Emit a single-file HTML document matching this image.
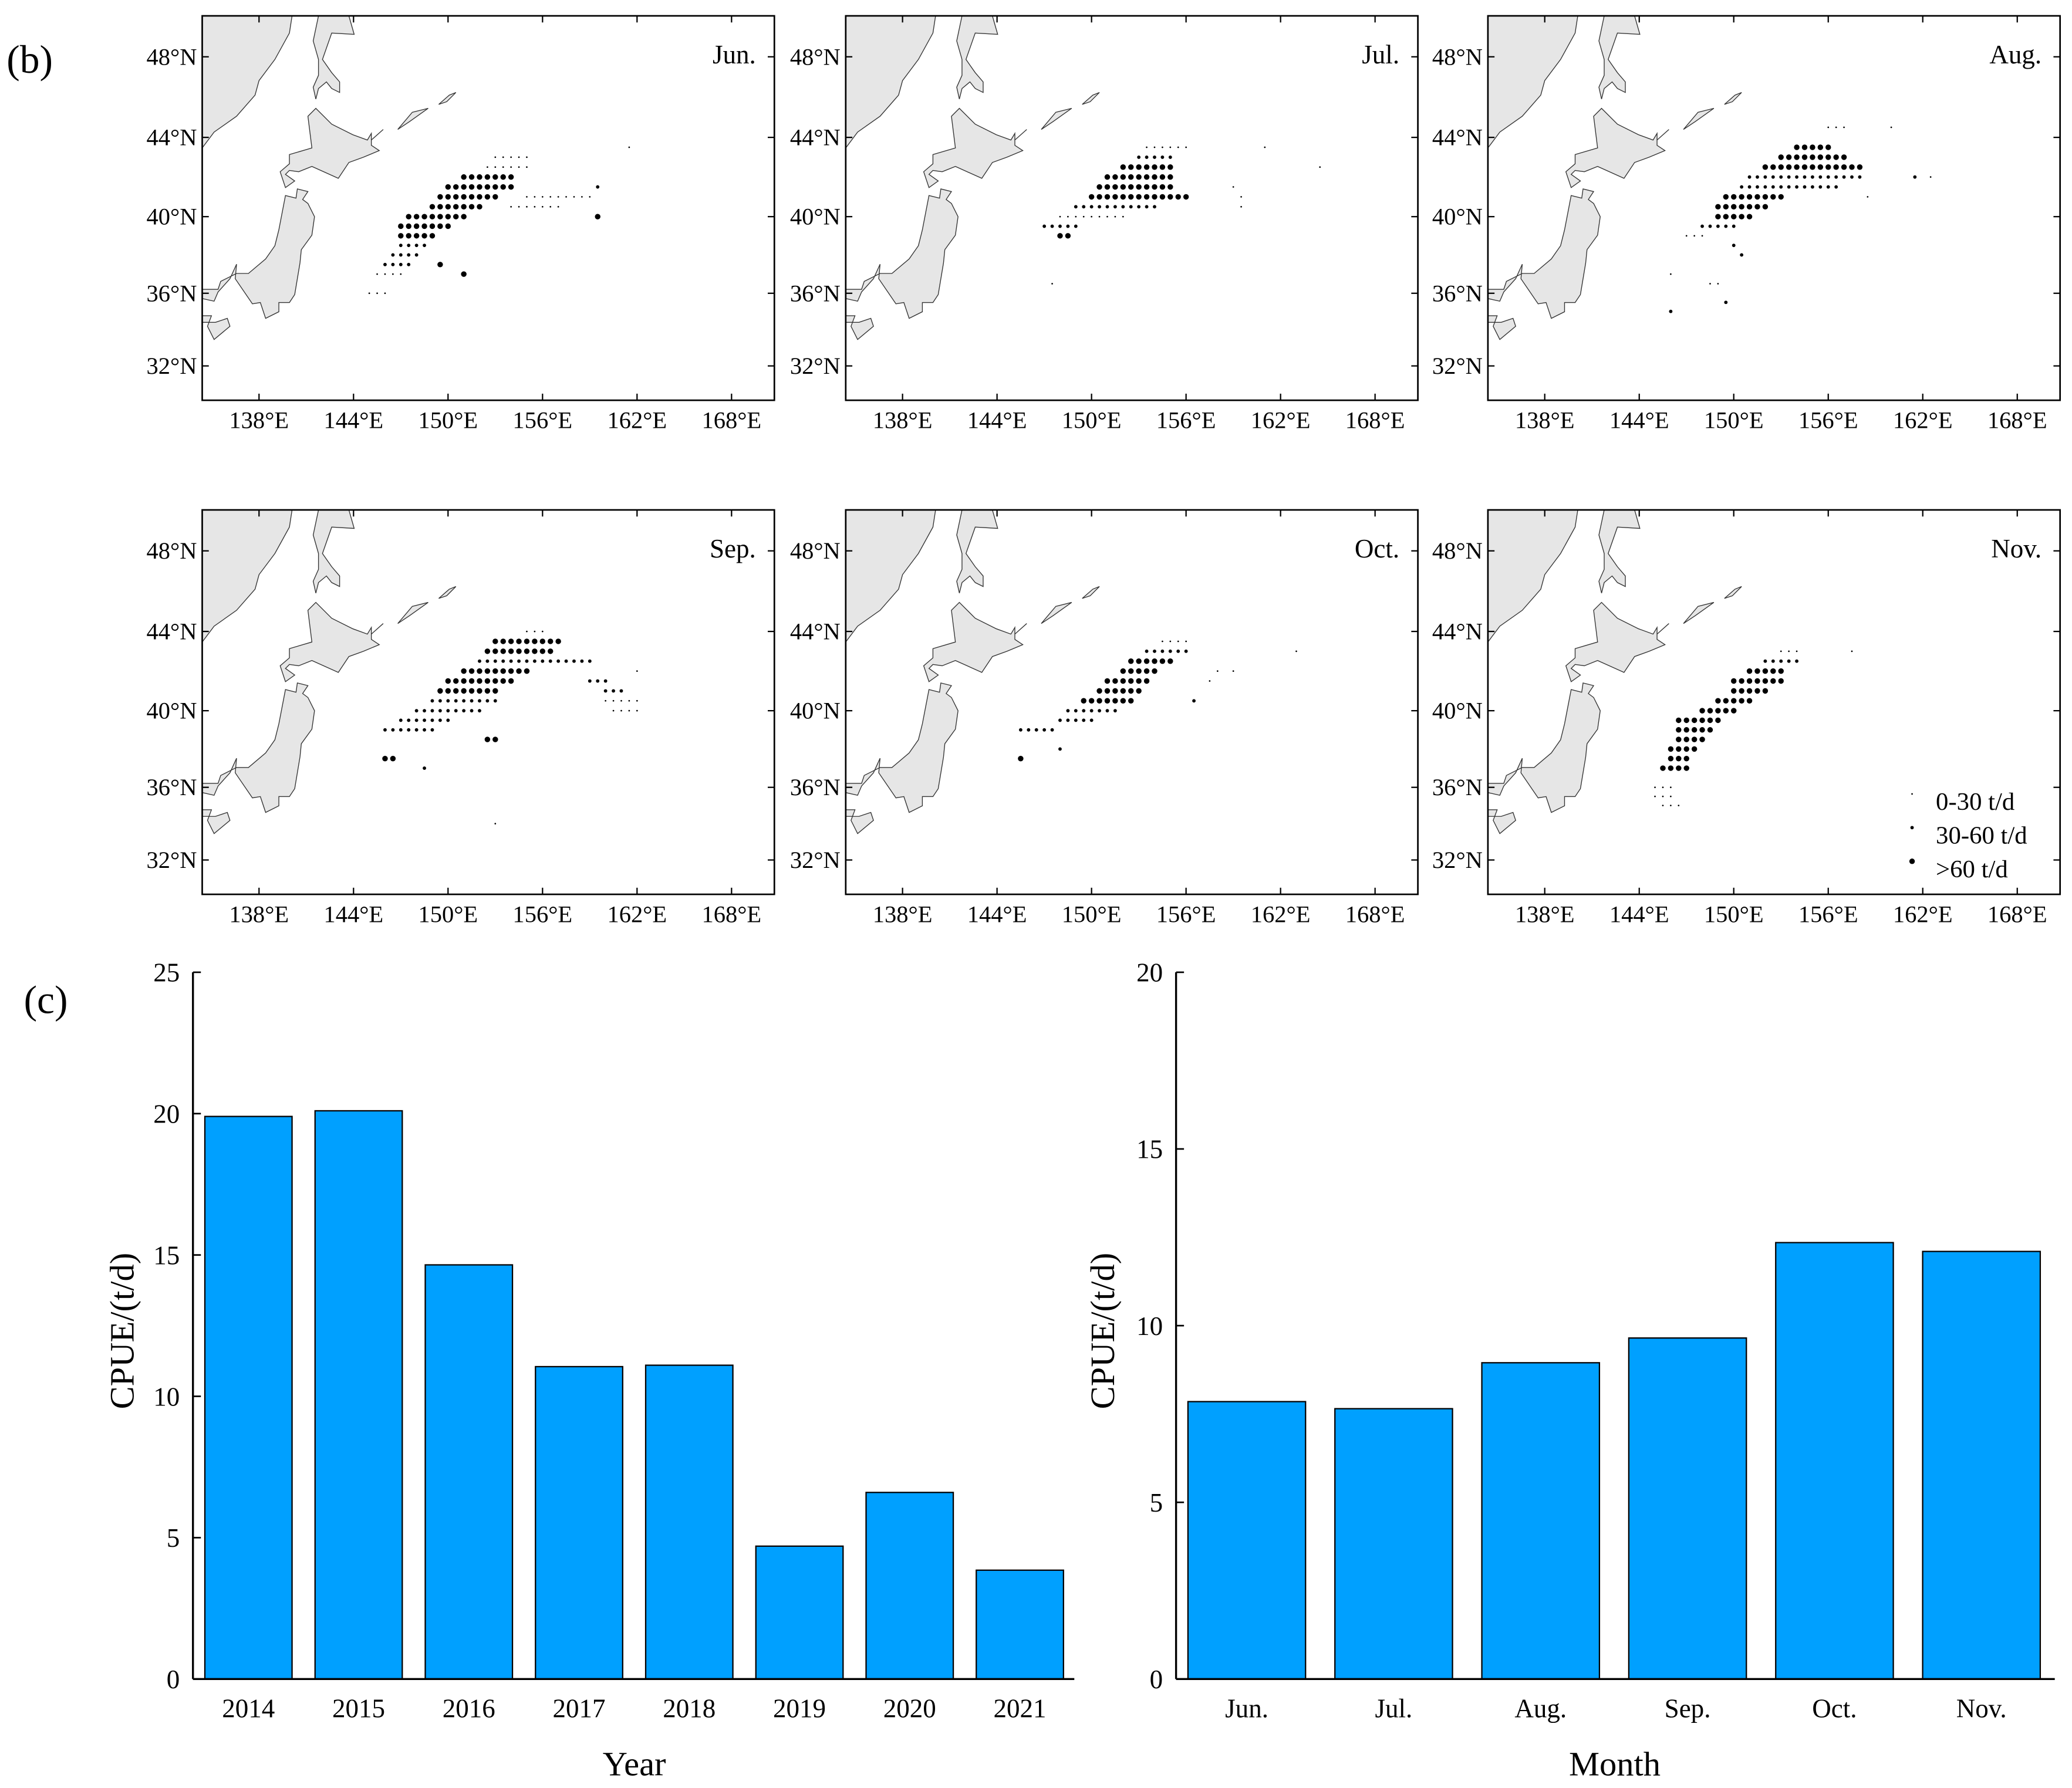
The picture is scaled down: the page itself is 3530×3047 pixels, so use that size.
<!DOCTYPE html>
<html><head><meta charset="utf-8"><style>
html,body{margin:0;padding:0;background:#fff}
svg{display:block;font-family:"Liberation Serif",serif}
svg text{font-family:"Liberation Serif",serif}
</style></head><body>
<svg id="fig" width="3530" height="3047" viewBox="0 0 1568 1353.5" xmlns="http://www.w3.org/2000/svg">
<text x="5" y="55" font-size="30" font-family="Liberation Serif, serif">(b)</text>
<text x="18" y="767" font-size="30" font-family="Liberation Serif, serif">(c)</text>
</svg>
<script>
// ---- Map data ----
const monthNames = ["Jun.","Jul.","Aug.","Sep.","Oct.","Nov."];
const latTicks = [48,44,40,36,32];
const lonTicks = [138,144,150,156,162,168];
// rows: [lat, lonStart, lonEnd, sizeClass]
const junRows = [[43,153,155,1],[42.5,152.5,155,1],[42,151,154,3],[41.5,150,154,3],[41,149.5,153,3],[40.5,149,152,3],[40,147.5,151,3],[39.5,147,150,3],[39,147,149,3],[38.5,147,148.5,2],[38,146.5,148,2],[37.5,146,147.5,2],[37,145.5,147,1],[36,145,146,1],[41,155,159,1],[40.5,154,157,1],[40,159.5,159.5,3],[41.5,159.5,159.5,2],[37.5,149.5,149.5,3],[37,151,151,3],[43.5,161.5,161.5,1]];
const julRows = [[43.5,153.5,156,1],[43,153,155,2],[42.5,152,155,3],[42,151,155,3],[41.5,150.5,155,3],[41,150,156,3],[40.5,149,154,2],[40,148,152,1],[39.5,147,149,2],[39,148,148.5,3],[41.5,159,159,1],[41,159.5,159.5,1],[40.5,159.5,159.5,1],[43.5,161,161,1],[42.5,164.5,164.5,1],[36.5,147.5,147.5,1]];
const augRows = [[44.5,156,157,1],[43.5,154,156,3],[43,153,157,3],[42.5,152,158,3],[42,151,158,2],[41.5,150.5,156.5,2],[41,149.5,153,3],[40.5,149,152,3],[40,149,151,3],[39.5,148,150,2],[39,147,148,1],[38.5,150,150,2],[38,150.5,150.5,2],[37,146,146,1],[35,146,146,2],[35.5,149.5,149.5,2],[36.5,148.5,149,1],[44.5,160,160,1],[42,161.5,161.5,2],[42,162.5,162.5,1],[41,158.5,158.5,1]];
const sepRows = [[44,155,156,1],[43.5,153,157,3],[43,152.5,156.5,3],[42.5,152,159,2],[42,151,155,3],[41.5,150,154,3],[41,149.5,153,3],[40.5,149,153,2],[40,148,152,2],[39.5,147,150,2],[39,146,149,2],[41.5,159,160,2],[41,160,161,2],[40.5,160,162,1],[40,160.5,162,1],[37.5,146,146.5,3],[37,148.5,148.5,2],[38.5,152.5,153,3],[42,162,162,1],[34,153,153,1]];
const octRows = [[43.5,154.5,156,1],[43,153.5,156,2],[42.5,152.5,155,3],[42,152,154,3],[41.5,151,153.5,3],[41,150.5,153,3],[40.5,149.5,152.5,3],[40,148.5,151.5,2],[39.5,148,150,2],[39,145.5,147.5,2],[37.5,145.5,145.5,3],[38,148,148,2],[42,158,158,1],[41.5,157.5,157.5,1],[42,159,159,1],[43,163,163,1],[40.5,156.5,156.5,2]];
const novRows = [[43,153,154,1],[42.5,152,154,2],[42,151,153,3],[41.5,150,153,3],[41,150,152,3],[40.5,149,151,3],[40,148,150,3],[39.5,146.5,149,3],[39,146.5,148.5,3],[38.5,146.5,148,3],[38,146,147.5,3],[37.5,146,147,3],[37,145.5,147,3],[36,145,146,1],[35.5,145,146,1],[35,145.5,146.5,1],[43,157.5,157.5,1]];
const monthRows = [junRows,julRows,augRows,sepRows,octRows,novRows];

// ---- Bar data ----
const years = ["2014","2015","2016","2017","2018","2019","2020","2021"];
const yearCPUE = [19.9,20.1,14.65,11.05,11.1,4.7,6.6,3.85];
const yearTicks = [0,5,10,15,20,25];
const months = ["Jun.","Jul.","Aug.","Sep.","Oct.","Nov."];
const monthCPUE = [7.85,7.65,8.95,9.65,12.35,12.1];
const monthTicks = [0,5,10,15,20];

const NS="http://www.w3.org/2000/svg";
const svg=document.getElementById('fig');
const FF="Liberation Serif, serif";
function mk(tag,attrs,parent,text){const e=document.createElementNS(NS,tag);for(const k in attrs)e.setAttribute(k,attrs[k]);if(tag==='text')e.setAttribute('font-family',FF);if(text!==undefined)e.textContent=text;(parent||svg).appendChild(e);return e;}

const land=[
 [[0,0],[68,0],[66,13],[55,33],[43,49],[40,60],[26,76],[9,88],[0,100]],
 [[88,0],[111,0],[115,14],[98,13],[91,33],[98,43],[104,50],[104,58],[98,55],[94,50],[88,55],[86,63],[84,54],[88,45],[88,33],[84,19]],
 [[86,70],[98,82],[114,90],[125,94],[128,89],[128,98],[134,102],[122,107],[111,111],[103,123],[83,114],[73,118],[66,117],[63,120],[70,125],[63,130],[59,118],[66,112],[66,105],[83,100],[80,76]],
 [[72,131],[80,133],[76,139],[80,142],[85,152],[83,166],[75,177],[74,187],[70,211],[66,217],[58,217],[58,224],[48,229],[44,217],[38,218],[25,199],[26,188],[21,199],[12,209],[9,216],[0,214],[0,207],[12,207],[14,201],[26,195],[35,195],[48,184],[55,174],[58,162],[63,136],[71,138]],
 [[0,227],[7,227],[4,235],[9,245],[21,235],[19,229],[10,232],[0,232]],
 [[148,86],[159,73],[171,70],[157,80]],
 [[179,67],[187,60],[192,58],[185,65]]
];
const latPx=[[48,31],[44,92],[40,152],[36,210],[32,265]];
function latY(lat){for(let i=0;i<latPx.length-1;i++){const a=latPx[i],b=latPx[i+1];if(lat<=a[0]&&lat>=b[0]||i===latPx.length-2||lat>a[0]&&i===0){return a[1]+(lat-a[0])*(b[1]-a[1])/(b[0]-a[0]);}}}
function lonX(lon){return 43+(lon-138)*11.92;}
const panelX=[153,640,1126], panelY=[12,386], PW=433, PH=291;
const rad=[0,0.6,1.3,2.1];

monthRows.forEach((rows,mi)=>{
  const ox=panelX[mi%3], oy=panelY[Math.floor(mi/3)];
  const g=mk('g',{transform:`translate(${ox},${oy})`});
  
  
  const cp=mk('clipPath',{id:'cp'+mi},g);mk('rect',{x:0,y:0,width:PW,height:PH},cp);
  const lg=mk('g',{'clip-path':`url(#cp${mi})`},g);
  land.forEach((poly)=>{
    const p=mk('polygon',{points:poly.map(q=>q.join(',')).join(' '),fill:'#e6e6e6',stroke:'#333','stroke-width':0.6},lg);
    
    
  });
  mk('line',{x1:128,y1:94,x2:137,y2:86,stroke:'#333','stroke-width':0.6},lg);
  rows.forEach(r=>{
    for(let lon=r[1];lon<=r[2]+1e-6;lon+=0.5){
      const c=mk('circle',{cx:lonX(lon),cy:latY(r[0]),r:rad[r[3]],fill:'#000'},lg);
      
      
    }
  });
  mk('rect',{x:0,y:0,width:PW,height:PH,fill:'none',stroke:'#000','stroke-width':1.2},g);
  latTicks.forEach(t=>{const y=latY(t);
    mk('line',{x1:PW,y1:y,x2:PW-5,y2:y,stroke:'#000','stroke-width':1},g);
    mk('line',{x1:0,y1:y,x2:5,y2:y,stroke:'#000','stroke-width':1},g);
    const tx=mk('text',{x:-4,y:y+6,'font-size':18,'text-anchor':'end'},g,t+'°N');
    
    
  });
  lonTicks.forEach(t=>{const x=lonX(t);
    mk('line',{x1:x,y1:PH,x2:x,y2:PH-5,stroke:'#000','stroke-width':1},g);
    mk('line',{x1:x,y1:0,x2:x,y2:5,stroke:'#000','stroke-width':1},g);
    const tx=mk('text',{x:x,y:PH+21,'font-size':18,'text-anchor':'middle'},g,t+'°E');
    
    
  });
  const mt=mk('text',{x:PW-14,y:36,'font-size':20,'text-anchor':'end'},g,monthNames[mi]);
  
  
});
const legLabels=["0-30 t/d","30-60 t/d",">60 t/d"];
legLabels.forEach((l,i)=>{
  const y=607+i*25.5;
  const c=mk('circle',{cx:1447,cy:y-6,r:rad[i+1],fill:'#000'});
  
  
  const t=mk('text',{x:1465,y:y+6,'font-size':19},svg,l);
  
  
});

function barChart(cfg){
  const {x0,x1,yTop,yBot,max,ticks,cats,vals,step,bw,c0,ylx,xtitle,xtx,name}=cfg;
  const g=mk('g',{});
  
  
  const Y=v=>yBot-(v/max)*(yBot-yTop);
  const X=i=>c0+i*step;
  vals.forEach((v,i)=>{
    const b=mk('rect',{x:X(i)-bw/2,y:Y(v),width:bw,height:yBot-Y(v),fill:'#00a0ff',stroke:'#000','stroke-width':1},g);
    
    
    const t=mk('text',{x:X(i),y:yBot+29,'font-size':20,'text-anchor':'middle'},g,cats[i]);
    
    
  });
  mk('line',{x1:x0,y1:yTop,x2:x0,y2:yBot,stroke:'#000','stroke-width':1.5},g);
  mk('line',{x1:x0,y1:yBot,x2:x1,y2:yBot,stroke:'#000','stroke-width':1.5},g);
  ticks.forEach(t=>{
    mk('line',{x1:x0,y1:Y(t),x2:x0+6,y2:Y(t),stroke:'#000','stroke-width':1.2},g);
    const tx=mk('text',{x:x0-10,y:Y(t)+7,'font-size':20,'text-anchor':'end'},g,t);
    
    
  });
  const yl=mk('text',{x:0,y:0,'font-size':26,'text-anchor':'middle',transform:`translate(${ylx},${(yTop+yBot)/2+4}) rotate(-90)`},g,'CPUE/(t/d)');
  
  
  const xt=mk('text',{x:xtx,y:1344,'font-size':26,'text-anchor':'middle'},g,xtitle);
  
  
}
barChart({x0:146,x1:813,yTop:736,yBot:1271,max:25,ticks:yearTicks,cats:years,vals:yearCPUE,step:83.4,bw:66,c0:188,ylx:101,xtitle:'Year',xtx:480,name:'cpue-by-year-chart'});
barChart({x0:890,x1:1555,yTop:736,yBot:1271,max:20,ticks:monthTicks,cats:months,vals:monthCPUE,step:111.2,bw:89,c0:943.5,ylx:843,xtitle:'Month',xtx:1222,name:'cpue-by-month-chart'});
</script>
</body></html>
